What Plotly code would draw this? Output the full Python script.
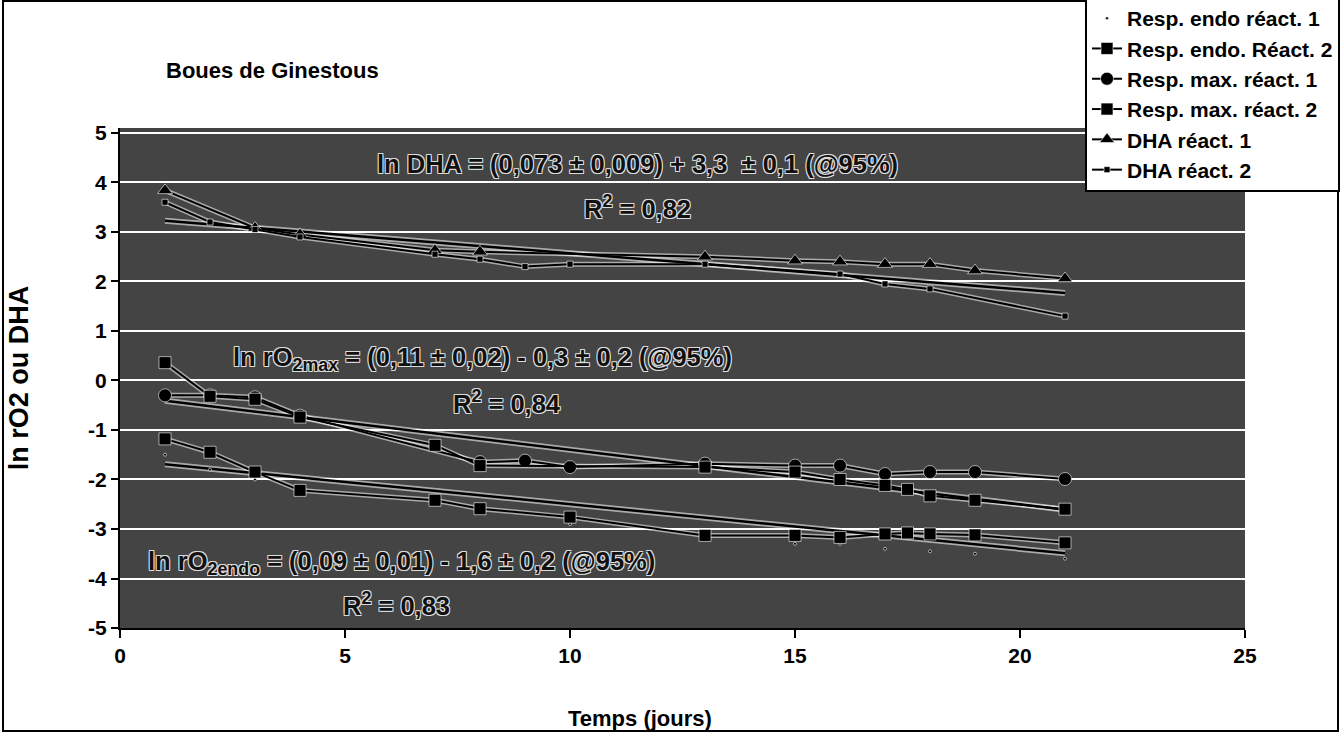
import plotly.graph_objects as go

# ---------------- data ----------------
t_endo1 = [1, 2, 3, 4, 7, 8, 10, 13, 15, 16, 17, 18, 19, 21]
endo1 = [-1.5, -1.8, -2.0, -2.2, -2.5, -2.65, -2.9, -3.1, -3.3, -3.3, -3.4, -3.45, -3.5, -3.6]

t_endo2 = [1, 2, 3, 4, 7, 8, 10, 13, 15, 16, 17, 17.5, 18, 19, 21]
endo2 = [-1.18, -1.45, -1.85, -2.22, -2.42, -2.59, -2.76, -3.13, -3.13, -3.17, -3.1, -3.08, -3.1, -3.12, -3.28]

t_max1 = [1, 2, 3, 4, 8, 9, 10, 13, 15, 16, 17, 18, 19, 21]
max1 = [-0.3, -0.3, -0.34, -0.71, -1.65, -1.62, -1.75, -1.68, -1.72, -1.72, -1.89, -1.85, -1.85, -1.99]

t_max2 = [1, 2, 3, 4, 7, 8, 13, 15, 16, 17, 17.5, 18, 19, 21]
max2 = [0.36, -0.32, -0.38, -0.74, -1.31, -1.72, -1.75, -1.85, -2.0, -2.12, -2.2, -2.33, -2.42, -2.6]

t_dha1 = [1, 3, 4, 7, 8, 13, 15, 16, 17, 18, 19, 21]
dha1 = [3.84, 3.08, 2.95, 2.63, 2.6, 2.5, 2.42, 2.4, 2.35, 2.35, 2.22, 2.06]

t_dha2 = [1, 2, 3, 4, 7, 8, 9, 10, 13, 16, 17, 18, 21]
dha2 = [3.6, 3.2, 3.05, 2.9, 2.55, 2.45, 2.3, 2.35, 2.35, 2.15, 1.95, 1.85, 1.3]

series_names = ["Resp. endo réact. 1", "Resp. endo. Réact. 2", "Resp. max. réact. 1",
                "Resp. max. réact. 2", "DHA réact. 1", "DHA réact. 2"]

# linear fits (ln y = intercept + slope * t)
fit_slope = [-0.073, -0.11, -0.09]
fit_intercept = [3.3, -0.3, -1.6]
fit_t = [1, 21]

x_ticks = [0, 5, 10, 15, 20, 25]
x_ticktext = ["0", "5", "10", "15", "20", "25"]
y_ticks = [-5, -4, -3, -2, -1, 0, 1, 2, 3, 4, 5]
y_ticktext = ["-5", "-4", "-3", "-2", "-1", "0", "1", "2", "3", "4", "5"]

eq_texts = [
    "ln DHA = (0,073 ± 0,009) + 3,3  ± 0,1 (@95%)",
    "R<sup>2</sup> = 0,82",
    "ln rO<sub>2max</sub> = (0,11 ± 0,02) - 0,3 ± 0,2 (@95%)",
    "R<sup>2</sup> = 0,84",
    "ln rO<sub>2endo</sub> = (0,09 ± 0,01) - 1,6 ± 0,2 (@95%)",
    "R<sup>2</sup> = 0,83",
]
eq_x = [11.5, 11.5, 8.05, 8.6, 6.25, 6.15]
eq_y = [4.38, 3.5, 0.44, -0.44, -3.68, -4.52]

title_text = "Boues de Ginestous"
x_title = "Temps (jours)"
y_title = "ln rO2 ou DHA"

# ---------------- figure ----------------
FONT = "Arial, Liberation Sans, sans-serif"
HALO = "rgba(255,255,255,0.55)"

fig = go.Figure()

series = [
    (t_endo1, endo1, "markers", dict(symbol="circle", size=3)),
    (t_endo2, endo2, "lines+markers", dict(symbol="square", size=12)),
    (t_max1, max1, "lines+markers", dict(symbol="circle", size=13)),
    (t_max2, max2, "lines+markers", dict(symbol="square", size=12)),
    (t_dha1, dha1, "lines+markers", dict(symbol="triangle-up", size=13)),
    (t_dha2, dha2, "lines+markers", dict(symbol="square", size=6)),
]

# white halos under lines (mimic the dithered edges)
for tx, ty, mode, mk in series:
    if "lines" in mode:
        fig.add_trace(go.Scatter(x=tx, y=ty, mode="lines", showlegend=False, hoverinfo="skip",
                                 line=dict(color=HALO, width=5)))
for s, i in zip(fit_slope, fit_intercept):
    fy = [i + s * t for t in fit_t]
    fig.add_trace(go.Scatter(x=fit_t, y=fy, mode="lines", showlegend=False, hoverinfo="skip",
                             line=dict(color=HALO, width=6)))
for s, i in zip(fit_slope, fit_intercept):
    fy = [i + s * t for t in fit_t]
    fig.add_trace(go.Scatter(x=fit_t, y=fy, mode="lines", showlegend=False, hoverinfo="skip",
                             line=dict(color="black", width=2.5)))

for k, ((tx, ty, mode, mk), name) in enumerate(zip(series, series_names)):
    fig.add_trace(go.Scatter(
        x=tx, y=ty, mode=mode, name=name, legendgroup=f"g{k}",
        line=dict(color="black", width=2),
        marker=dict(color="black", line=dict(color="rgba(255,255,255,0.6)", width=1), **mk),
    ))

for txt, ax, ay in zip(eq_texts, eq_x, eq_y):
    fig.add_annotation(
        x=ax, y=ay, xref="x", yref="y", text=txt, showarrow=False,
        font=dict(family=FONT, size=25.5, color="#111", weight="bold",
                  shadow="1px 1px 0 #ddd, -1px -1px 0 #ddd, 1px -1px 0 #ddd, -1px 1px 0 #ddd"),
    )

# pixel -> paper conversion
L, R, T, B = 120, 98, 128, 106
W, H = 1343, 734
pw, ph = W - L - R, H - T - B
def px2x(p):
    return (p - L) / pw
def py2y(p):
    return (H - B - p) / ph

# x-axis title (sits left of the plot centre in the reference)
fig.add_annotation(x=px2x(640), y=py2y(718), xref="paper", yref="paper",
                   text=x_title, showarrow=False, xanchor="center", yanchor="middle",
                   font=dict(family=FONT, size=22, color="black", weight="bold"))

# outer frame of the whole chart
fig.add_shape(type="rect", xref="paper", yref="paper",
              x0=px2x(3), x1=px2x(1338), y0=py2y(731), y1=py2y(1),
              line=dict(color="black", width=2), fillcolor="rgba(0,0,0,0)", layer="above")

fig.update_layout(
    width=W, height=H,
    margin=dict(l=L, r=R, t=T, b=B, autoexpand=False),
    paper_bgcolor="white",
    plot_bgcolor="#444444",
    font=dict(family=FONT, color="black"),
    title=dict(text=title_text, x=166 / W, xanchor="left",
               y=1 - 70 / H, yanchor="middle",
               font=dict(family=FONT, size=22, color="black", weight="bold")),
    showlegend=True,
    legend=dict(x=px2x(1085), y=py2y(-4), xanchor="left", yanchor="top",
                bgcolor="white", bordercolor="black", borderwidth=2,
                font=dict(family=FONT, size=21, color="black", weight="bold"),
                tracegroupgap=0, traceorder="grouped", itemwidth=30),
    xaxis=dict(range=[0, 25], tickvals=x_ticks, ticktext=x_ticktext, ticks="outside",
               ticklen=8, tickwidth=2,
               tickcolor="black", showline=True, linecolor="black", linewidth=2,
               showgrid=False, zeroline=False,
               tickfont=dict(family=FONT, size=21, color="black", weight="bold")),
    yaxis=dict(range=[-5, 5.1], tickvals=y_ticks, ticktext=y_ticktext, ticks="outside",
               ticklen=7, tickwidth=2,
               tickcolor="black", showline=True, linecolor="black", linewidth=2,
               showgrid=True, gridcolor="white", gridwidth=2, zeroline=False,
               tickfont=dict(family=FONT, size=21, color="black", weight="bold"),
               title=dict(text=y_title, standoff=52,
                          font=dict(family=FONT, size=27, color="black", weight="bold"))),
)

fig.write_html("out.html", config={"displayModeBar": False},
               post_script="document.body.style.margin='0';")
